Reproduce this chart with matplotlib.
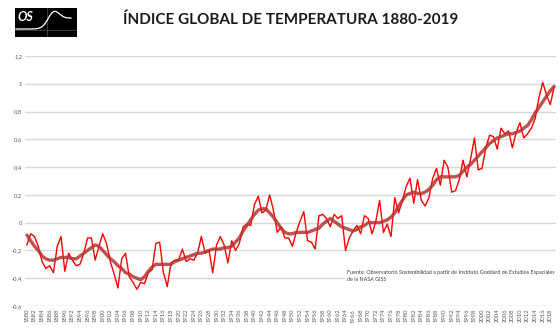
#!/usr/bin/env python
import numpy as np
import matplotlib
matplotlib.use('Agg')
import matplotlib.pyplot as plt
from matplotlib.patches import Rectangle

plt.rcParams['font.family'] = ['Lato', 'DejaVu Sans']

years = list(range(1880, 2020))
anomaly = [
	-0.16, -0.08, -0.10, -0.17, -0.28, -0.33, -0.31, -0.36, -0.17, -0.10,
	-0.35, -0.22, -0.27, -0.31, -0.30, -0.22, -0.11, -0.11, -0.27, -0.17,
	-0.08, -0.15, -0.28, -0.37, -0.47, -0.26, -0.22, -0.39, -0.43, -0.48,
	-0.43, -0.44, -0.36, -0.34, -0.15, -0.14, -0.36, -0.46, -0.29, -0.27,
	-0.27, -0.19, -0.28, -0.26, -0.27, -0.22, -0.10, -0.22, -0.20, -0.36,
	-0.16, -0.10, -0.16, -0.29, -0.13, -0.20, -0.15, -0.03, -0.01, -0.02,
	0.13, 0.19, 0.07, 0.09, 0.20, 0.09, -0.07, -0.03, -0.11, -0.11,
	-0.17, -0.07, 0.01, 0.08, -0.13, -0.14, -0.19, 0.05, 0.06, 0.03,
	-0.03, 0.06, 0.03, 0.05, -0.20, -0.11, -0.06, -0.02, -0.08, 0.05,
	0.03, -0.08, 0.01, 0.16, -0.07, -0.01, -0.10, 0.18, 0.07, 0.16,
	0.26, 0.32, 0.14, 0.31, 0.16, 0.12, 0.18, 0.32, 0.39, 0.27,
	0.45, 0.40, 0.22, 0.23, 0.31, 0.45, 0.33, 0.46, 0.61, 0.38,
	0.39, 0.54, 0.63, 0.62, 0.53, 0.68, 0.64, 0.66, 0.54, 0.65,
	0.72, 0.61, 0.64, 0.68, 0.75, 0.90, 1.01, 0.92, 0.85, 0.98,
]
smooth = [
	-0.09, -0.13, -0.17, -0.20, -0.24, -0.26, -0.27, -0.27, -0.26, -0.25,
	-0.25, -0.25, -0.26, -0.26, -0.24, -0.22, -0.20, -0.18, -0.16, -0.17,
	-0.20, -0.23, -0.26, -0.28, -0.31, -0.33, -0.36, -0.37, -0.39, -0.40,
	-0.41, -0.39, -0.35, -0.32, -0.30, -0.30, -0.30, -0.30, -0.30, -0.28,
	-0.27, -0.26, -0.25, -0.24, -0.23, -0.22, -0.22, -0.21, -0.20, -0.19,
	-0.19, -0.19, -0.18, -0.18, -0.17, -0.14, -0.11, -0.06, -0.02, 0.02,
	0.06, 0.09, 0.10, 0.10, 0.07, 0.04, 0.00, -0.04, -0.07, -0.08,
	-0.08, -0.07, -0.07, -0.07, -0.07, -0.06, -0.05, -0.04, -0.01, 0.01,
	0.03, 0.01, -0.01, -0.03, -0.04, -0.05, -0.06, -0.05, -0.03, -0.02,
	0.00, 0.00, 0.00, 0.00, 0.01, 0.02, 0.04, 0.07, 0.12, 0.16,
	0.20, 0.21, 0.22, 0.21, 0.21, 0.22, 0.24, 0.27, 0.31, 0.33,
	0.33, 0.33, 0.33, 0.33, 0.34, 0.37, 0.40, 0.42, 0.45, 0.48,
	0.51, 0.54, 0.57, 0.59, 0.61, 0.62, 0.63, 0.64, 0.64, 0.65,
	0.66, 0.68, 0.70, 0.74, 0.79, 0.83, 0.87, 0.91, 0.95, 0.98,
]
yticks = [-0.6, -0.4, -0.2, 0, 0.2, 0.4, 0.6, 0.8, 1, 1.2]

W, H = 560, 331
fig = plt.figure(figsize=(W / 100, H / 100), dpi=100)

# plot area in pixels: left 25, right 556, top 56, bottom 306
ax = fig.add_axes([25 / W, 1 - 306 / H, 531 / W, 250 / H])
x = np.arange(len(years))
ax.plot(x, anomaly, color='#ff0000', lw=1.0, zorder=3)
ax.plot(x, smooth, color='#b5322f', lw=2.4, alpha=0.85, zorder=4, solid_capstyle='round')

ax.set_xlim(-0.5, len(years) - 0.5)
ax.set_ylim(-0.6, 1.2)
ax.set_yticks(yticks)
ax.set_yticklabels([('%g' % v).replace('.', ',') for v in yticks], fontsize=4.2, color='#595959')
ax.set_xticks(x[::2])
ax.set_xticklabels([str(y) for y in years[::2]], rotation=90, fontsize=4.2, color='#595959')
ax.tick_params(length=0, pad=2)
ax.grid(axis='y', color='#d9d9d9', lw=1.0)
ax.set_axisbelow(True)
for s in ax.spines.values():
	s.set_visible(False)

fig.text(291 / W, 1 - 20 / H, 'ÍNDICE GLOBAL DE TEMPERATURA 1880-2019',
	ha='center', va='center', fontsize=11, fontweight='bold', color='#1a1a1a')

ax.text(0.606, 0.12, 'Fuente: Observatorio Sostenibilidad a partir de Instituto Goddard de Estudios Espaciales\nde la NASA GISS',
	transform=ax.transAxes, fontsize=3.9, color='#404040', va='center', ha='left',
	linespacing=1.5, zorder=5,
	bbox=dict(facecolor='white', edgecolor='none', pad=1.5))

# logo
lg = fig.add_axes([15 / W, 1 - 37 / H, 62 / W, 29 / H])
lg.set_xlim(0, 62)
lg.set_ylim(29, 0)
lg.add_patch(Rectangle((0, 0), 62, 29, color='black'))
lg.plot([0, 62], [22, 22], color='#666666', lw=0.4)
lg.plot([32, 32], [0, 29], color='#666666', lw=0.4)
cx = np.linspace(1, 56, 80)
base = 21 - 11 / (1 + np.exp(-(cx - 38) / 4))
cy = base - 11.5 * np.exp(-((cx - 38) / 8) ** 2)
lg.plot(cx, cy, color='white', lw=0.9)
lg.text(2, 9, 'OS', color='white', fontsize=9, fontweight='bold', fontstyle='italic', va='center', ha='left')
lg.axis('off')

fig.savefig('out.png', dpi=100)
